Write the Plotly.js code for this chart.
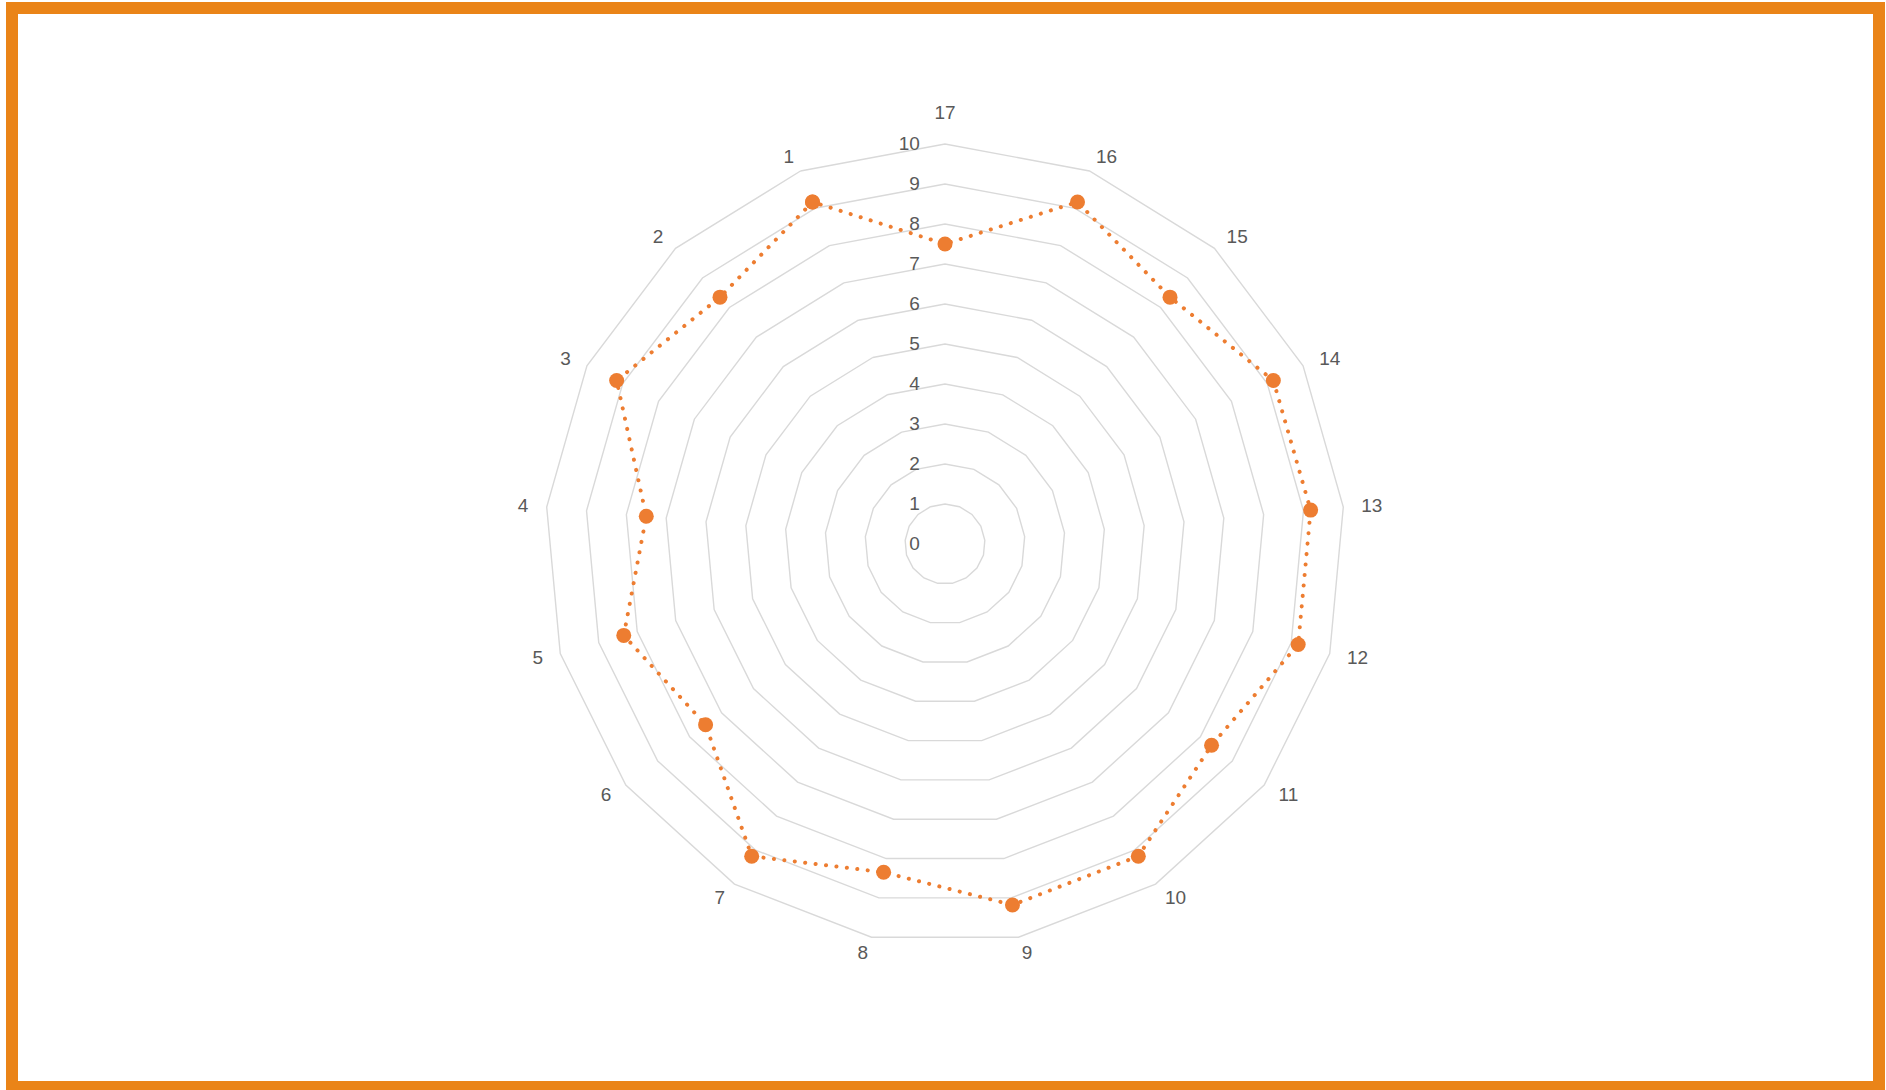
<!DOCTYPE html>
<html>
<head>
<meta charset="utf-8">
<script src="https://cdn.plot.ly/plotly-3.0.1.min.js"></script>
<style>
  html, body { margin: 0; padding: 0; background: #ffffff; }
  #frame { position: absolute; left: 6px; top: 2px; width: 1855px; height: 1067px; border: 12px solid #EA8418; pointer-events: none; }
  #chart { position: absolute; left: 0; top: 0; width: 1886px; height: 1090px; }
  .js-line { stroke-linecap: round; }
</style>
</head>
<body>
<div id="chart"></div>
<div id="frame"></div>
<script>
const categories = ["1","2","3","4","5","6","7","8","9","10","11","12","13","14","15","16","17"];
const seriesValues = [9.17, 8.35, 9.17, 7.5, 8.35, 7.5, 9.18, 8.35, 9.18, 9.18, 8.35, 9.18, 9.18, 9.17, 8.35, 9.17, 7.5];
const radialTicks = [0,1,2,3,4,5,6,7,8,9,10];

// close the polygon
const thetaClosed = categories.concat([categories[0]]);
const rClosed = seriesValues.concat([seriesValues[0]]);

const step = 360 / categories.length;
const rotation = 90 - (categories.length - 1) * step;

const trace = {
  type: 'scatterpolar',
  theta: thetaClosed,
  r: rClosed,
  mode: 'lines+markers',
  line: { color: '#ED7D31', width: 4, dash: '0.1px,10.4px' },
  marker: { color: '#ED7D31', size: 15 },
  hoverinfo: 'skip',
  showlegend: false
};

const W = 1886, H = 1090, cx = 945, cy = 544, R = 400;
const FONT = 'Liberation Sans, Arial, sans-serif';

const layout = {
  width: W, height: H,
  margin: { l: 0, r: 0, t: 0, b: 0 },
  paper_bgcolor: '#ffffff',
  font: { family: FONT, size: 19, color: '#595959' },
  polar: {
    domain: { x: [(cx - R) / W, (cx + R) / W], y: [(H - cy - R) / H, (H - cy + R) / H] },
    bgcolor: 'rgba(0,0,0,0)',
    gridshape: 'linear',
    angularaxis: {
      type: 'category',
      categoryarray: categories,
      direction: 'counterclockwise',
      rotation: rotation,
      showgrid: false,
      showline: true,
      linecolor: '#D9D9D9',
      linewidth: 1.4,
      ticks: 'outside',
      ticklen: 9,
      tickcolor: 'rgba(0,0,0,0)',
      tickfont: { family: FONT, size: 19, color: '#595959' }
    },
    radialaxis: {
      range: [0, 10],
      tickvals: radialTicks,
      ticktext: radialTicks.map(String),
      angle: 90,
      side: 'counterclockwise',
      tickangle: 90,
      showline: false,
      showgrid: true,
      gridcolor: '#D9D9D9',
      gridwidth: 1.4,
      ticks: 'outside',
      ticklen: 18,
      tickcolor: 'rgba(0,0,0,0)',
      tickfont: { family: FONT, size: 19, color: '#595959' }
    }
  }
};

Plotly.newPlot('chart', [trace], layout, { displayModeBar: false, staticPlot: true }).then(function () {
  // Place category labels like the original: anchored just outside the outer ring,
  // extending horizontally away from the centre
  const host = document.getElementById('chart').getBoundingClientRect();
  const labels = document.querySelectorAll('#chart g.angularaxistick text');
  labels.forEach(function (t) {
    const idx = categories.indexOf(t.textContent.trim());
    if (idx < 0) return;
    const ang = (rotation + idx * step) * Math.PI / 180;
    const c = Math.cos(ang), s = Math.sin(ang);
    const b = t.getBoundingClientRect();
    const curX = b.left - host.left + b.width / 2;
    const curY = b.top - host.top + b.height / 2;
    let wantX, wantY;
    if (Math.abs(c) < 0.01) {
      const a = s > 0 ? R + 32 : R + 18;
      wantX = cx;
      wantY = cy - s * a;
    } else {
      const a = R + 16;
      wantX = cx + c * a + Math.sign(c) * (b.width / 2 + 2 * Math.abs(c));
      wantY = cy - s * a;
    }
    const dx = wantX - curX, dy = wantY - curY;
    const tr = t.getAttribute('transform') || '';
    t.setAttribute('transform', 'translate(' + dx.toFixed(2) + ',' + dy.toFixed(2) + ') ' + tr);
  });
});
</script>
</body>
</html>
